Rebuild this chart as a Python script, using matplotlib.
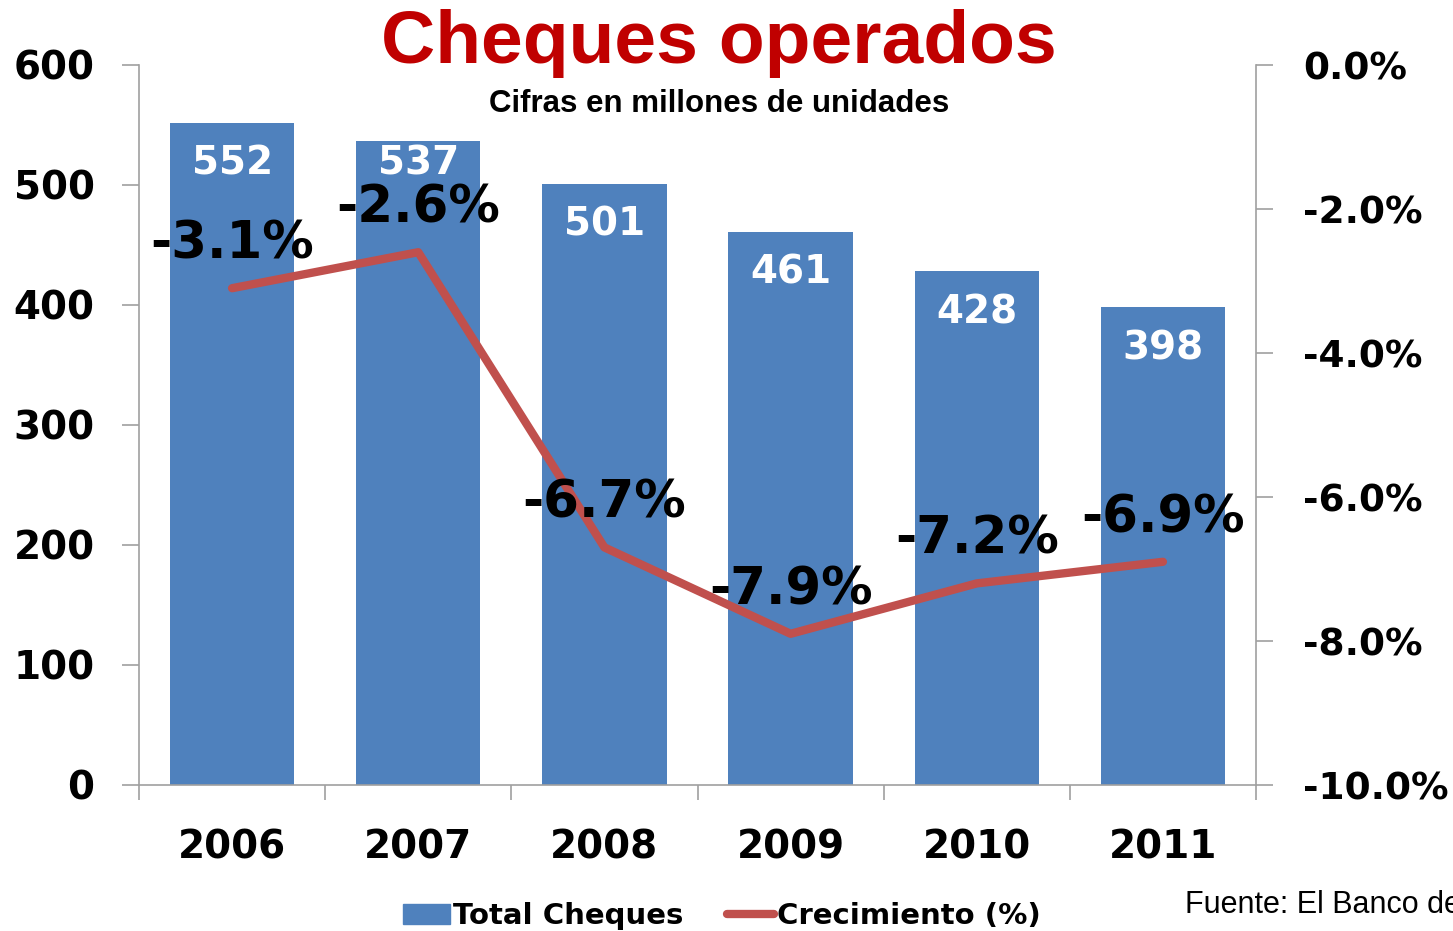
import matplotlib
matplotlib.use("Agg")
import matplotlib.pyplot as plt
from matplotlib.lines import Line2D
from matplotlib.patches import Patch

years = ["2006", "2007", "2008", "2009", "2010", "2011"]
total_cheques = [552, 537, 501, 461, 428, 398]
crecimiento = [-3.1, -2.6, -6.7, -7.9, -7.2, -6.9]
left_ticks = [0, 100, 200, 300, 400, 500, 600]
right_ticks = [0, -2, -4, -6, -8, -10]

BLUE = "#4F81BD"
RED = "#C0504D"
GRAY = "#A0A0A0"
FONT = "DejaVu Sans"

fig = plt.figure(figsize=(14.53, 9.31), dpi=100)
ax = fig.add_axes([139/1453, 1-785/931, (1256-139)/1453, (785-65)/931])
ax2 = ax.twinx()

x = list(range(len(years)))
ax.bar(x, total_cheques, width=0.667, color=BLUE, zorder=2)
ax.set_xlim(-0.5, 5.5)
ax.set_ylim(0, 600)
ax.set_yticks(left_ticks)
ax.set_yticklabels([str(v) for v in left_ticks], fontsize=28, fontweight="bold", family=FONT)
ax.set_xticks(x)
ax.set_xticklabels(years, fontsize=28, fontweight="bold", family=FONT)
ax.set_xticks([i - 0.5 for i in range(len(years) + 1)], minor=True)
ax.tick_params(axis="x", which="major", length=0, pad=31)
ax.tick_params(axis="x", which="minor", length=11, color=GRAY, width=1.2, direction="out")
ax.tick_params(axis="y", length=12, color=GRAY, width=1.2, direction="out", pad=20)
for s in ["top", "right"]:
    ax.spines[s].set_visible(False)
ax.spines["left"].set_color(GRAY)
ax.spines["bottom"].set_color(GRAY)
ax.spines["left"].set_linewidth(1.2)
ax.spines["bottom"].set_linewidth(1.2)

for xi, v in zip(x, total_cheques):
    # the 2007 label sits higher in the bar, just under its top edge
    dy = -16.5 if xi == 1 else -29.5
    ax.annotate(str(v), (xi, v), xytext=(0, dy), textcoords="offset points",
                ha="center", va="center", color="white", fontsize=28,
                fontweight="bold", family=FONT, zorder=5)

ax2.plot(x, crecimiento, color=RED, linewidth=6, zorder=3, solid_capstyle="round")
ax2.set_ylim(-10, 0)
ax2.set_yticks(right_ticks)
ax2.set_yticklabels([f"{v:.1f}%" for v in right_ticks], fontsize=27, fontweight="bold", family=FONT)
ax2.tick_params(axis="y", length=12, color=GRAY, width=1.2, direction="out", pad=22)
for s in ["top", "left", "bottom"]:
    ax2.spines[s].set_visible(False)
ax2.spines["right"].set_color(GRAY)
ax2.spines["right"].set_linewidth(1.2)

for xi, v in zip(x, crecimiento):
    ax2.annotate(f"{v:.1f}%", (xi, v), xytext=(0, 31.5), textcoords="offset points",
                 ha="center", va="center", color="black", fontsize=37,
                 fontweight="bold", family=FONT, zorder=6)

fig.text(719/1453, 1-43/931, "Cheques operados", ha="center", va="center",
         color="#C00000", fontsize=54, fontweight="bold", family="Liberation Sans")
fig.text(719/1453, 1-104/931, "Cifras en millones de unidades", ha="center", va="center",
         color="black", fontsize=22.5, fontweight="bold", family="Liberation Sans")

handles = [Patch(facecolor=BLUE, edgecolor=BLUE),
           Line2D([0], [0], color=RED, linewidth=6, solid_capstyle="round")]
leg = fig.legend(handles, ["Total Cheques", "Crecimiento (%)"], loc="center",
                 bbox_to_anchor=(722/1453, 1-916/931), ncol=2, frameon=False,
                 prop={"family": FONT, "weight": "bold", "size": 21},
                 handlelength=1.6, handletextpad=0.1, columnspacing=1.5)

fig.text(1185/1453, 1-905/931, "Fuente: El Banco de Guatemala", ha="left", va="center",
         color="black", fontsize=22, family="Liberation Sans")

fig.savefig("out.png", dpi=100)
